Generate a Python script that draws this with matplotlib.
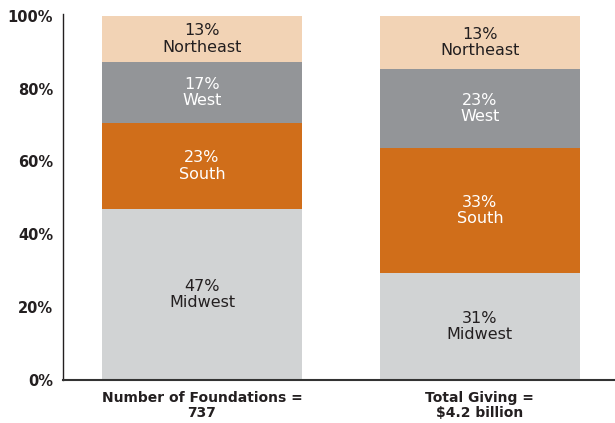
import matplotlib
matplotlib.use("Agg")
import matplotlib.pyplot as plt

# data
groups = ["Number of Foundations =\n737", "Total Giving =\n$4.2 billion"]
regions = ["Midwest", "South", "West", "Northeast"]
# percentages as printed on the chart
shares = {
    "Midwest": [47, 31],
    "South": [23, 33],
    "West": [17, 23],
    "Northeast": [13, 13],
}
# segment heights as drawn in the picture (unrounded shares)
heights = {
    "Midwest": [47.0, 29.4],
    "South": [23.5, 34.4],
    "West": [16.8, 21.6],
    "Northeast": [12.7, 14.6],
}
colors = {"Midwest": "#D1D3D4", "South": "#D06E1A", "West": "#939598", "Northeast": "#F2D3B5"}
text_colors = {"Midwest": "#231F20", "South": "white", "West": "white", "Northeast": "#231F20"}
yticks = [0, 20, 40, 60, 80, 100]

plt.rcParams['font.family'] = ['DejaVu Sans']

fig = plt.figure(figsize=(6.15, 4.23), dpi=100)
ax = fig.add_axes([63 / 615, 1 - 380 / 423, 1 - 63 / 615, (380 - 14) / 423])

x = [0, 1]
bottom = [0, 0]
for r in regions:
    ax.bar(x, heights[r], bottom=bottom, width=0.72, color=colors[r], zorder=2)
    for i in x:
        yc = bottom[i] + heights[r][i] / 2
        ax.text(i, yc, f"{shares[r][i]}%\n{r}", ha="center", va="center",
                fontsize=11.5, color=text_colors[r], linespacing=1.1)
    bottom = [bottom[i] + heights[r][i] for i in x]

ax.set_ylim(0, 100.5)
ax.set_xlim(-0.5, 1.486)
ax.set_yticks(yticks)
ax.set_yticklabels([f"{t}%" for t in yticks], fontsize=10.5, fontweight="bold", color="#231F20")
ax.set_xticks(x)
ax.set_xticklabels(groups, fontsize=10, fontweight="bold", color="#231F20", linespacing=1.12)
ax.tick_params(axis="both", length=0)
ax.tick_params(axis="y", pad=7)
ax.tick_params(axis="x", pad=8)

for s in ["top", "right"]:
    ax.spines[s].set_visible(False)
ax.spines["left"].set_color("#231F20")
ax.spines["left"].set_linewidth(1.0)
ax.spines["bottom"].set_color("#333333")
ax.spines["bottom"].set_linewidth(1.5)
ax.spines["bottom"].set_zorder(3)

fig.savefig("out.png", dpi=100)
